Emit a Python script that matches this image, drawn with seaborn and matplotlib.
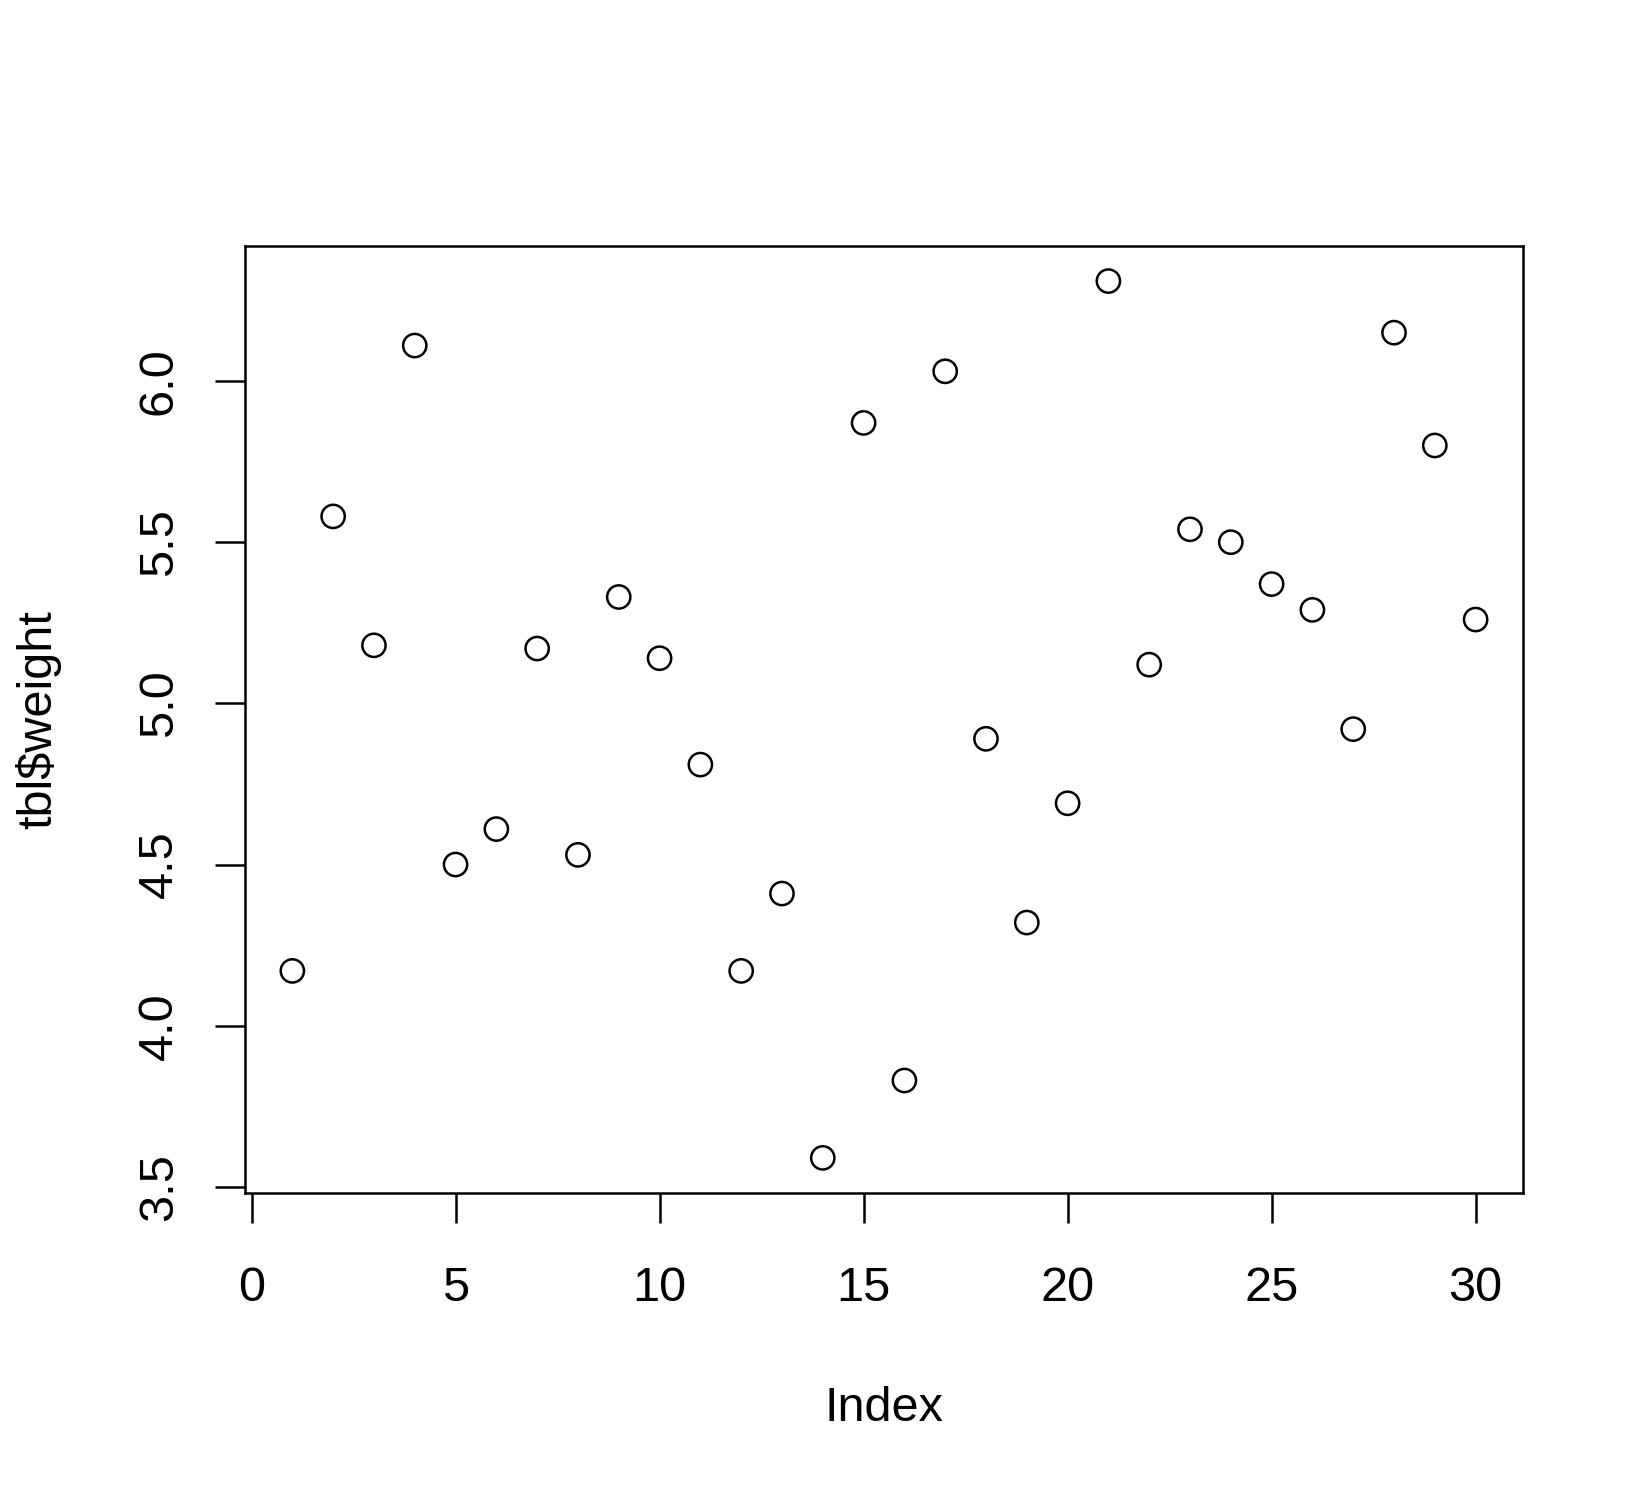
import numpy as np
import pandas as pd
import seaborn as sns
import matplotlib.pyplot as plt

# PlantGrowth weights, plotted against their index
index = list(range(1, 31))
weight = [4.17, 5.58, 5.18, 6.11, 4.50, 4.61, 5.17, 4.53, 5.33, 5.14,
          4.81, 4.17, 4.41, 3.59, 5.87, 3.83, 6.03, 4.89, 4.32, 4.69,
          6.31, 5.12, 5.54, 5.50, 5.37, 5.29, 4.92, 6.15, 5.80, 5.26]
x_ticks = [0, 5, 10, 15, 20, 25, 30]
y_ticks = [3.5, 4.0, 4.5, 5.0, 5.5, 6.0]

df = pd.DataFrame({"Index": index, "weight": weight})

sns.set_style("white")
plt.rcParams["font.family"] = ["Liberation Sans", "DejaVu Sans"]
plt.rcParams["text.color"] = "black"
plt.rcParams["axes.labelcolor"] = "black"
plt.rcParams["xtick.bottom"] = True
plt.rcParams["ytick.left"] = True
plt.rcParams["xtick.major.size"] = 21.6
plt.rcParams["ytick.major.size"] = 21.6

fig = plt.figure(figsize=(16.5, 15), dpi=100)
ax = fig.add_axes([0.1485, 0.2047, 0.923 - 0.1485, 0.836 - 0.2047])

sns.scatterplot(data=df, x="Index", y="weight", ax=ax, marker="o",
                s=280, facecolor="none", edgecolor="black", linewidth=1.8)

# R's default 4% padding around the data range
xr = max(index) - min(index)
yr = max(weight) - min(weight)
ax.set_xlim(min(index) - 0.04 * xr, max(index) + 0.04 * xr)
ax.set_ylim(min(weight) - 0.04 * yr, max(weight) + 0.04 * yr)

ax.set_xticks(x_ticks)
ax.set_yticks(y_ticks)
ax.set_xticklabels([str(t) for t in x_ticks])
ax.set_yticklabels([f"{t:.1f}" for t in y_ticks], rotation=90, va="center")

for sp in ax.spines.values():
    sp.set_visible(True)
    sp.set_color("black")
    sp.set_linewidth(1.8)

ax.tick_params(axis="both", direction="out", length=21.6, width=1.8,
               colors="black", labelsize=35, bottom=True, left=True)
ax.tick_params(axis="x", pad=31)
ax.tick_params(axis="y", pad=24)

ax.set_xlabel("Index", fontsize=35, labelpad=54, color="black")
ax.set_ylabel("tbl$weight", fontsize=35, labelpad=54, color="black")

fig.savefig("out.png", dpi=100, facecolor="white")
